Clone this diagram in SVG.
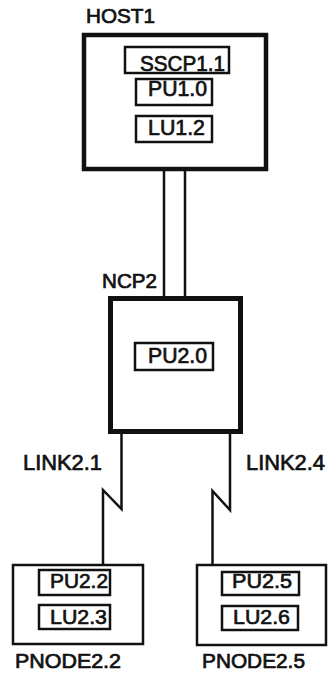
<svg xmlns="http://www.w3.org/2000/svg" width="330" height="675" viewBox="0 0 330 675">
<style>
text{font-family:"Liberation Sans",Arial,sans-serif;fill:#111;stroke:#111;stroke-width:0.7;}
.big{font-size:20px;}
.lk{font-size:22px;}
.in{font-size:22px;}
.in2{font-size:21px;}
.thick{fill:#fff;stroke:#111;stroke-width:4.5;}
.box{fill:#fff;stroke:#111;stroke-width:2.5;}
.sub{fill:none;stroke:#111;stroke-width:2.5;}
.ln{fill:none;stroke:#111;stroke-width:2.5;stroke-linejoin:miter;}
</style>
<rect width="330" height="675" fill="#fff"/>
<g id="connectors">
<line class="ln" x1="164" y1="170" x2="164" y2="297"/>
<line class="ln" x1="185" y1="170" x2="185" y2="297"/>
<path class="ln" d="M121.5 433 V509 L103 490 V565"/>
<path class="ln" d="M230 433 V510 L212.5 491 V565"/>
</g>
<g id="host1">
<rect class="thick" x="84" y="35" width="182" height="134"/>
<text class="big" x="86" y="23" textLength="69" lengthAdjust="spacingAndGlyphs">HOST1</text>
<rect class="sub" x="125" y="47" width="104" height="26"/>
<text class="in" x="140" y="71" textLength="85" lengthAdjust="spacingAndGlyphs">SSCP1.1</text>
<rect class="sub" x="136" y="79" width="76" height="26"/>
<text class="in" x="148" y="96" textLength="59" lengthAdjust="spacingAndGlyphs">PU1.0</text>
<rect class="sub" x="136" y="116" width="76" height="26"/>
<text class="in" x="148" y="135" textLength="57" lengthAdjust="spacingAndGlyphs">LU1.2</text>
</g>
<g id="ncp2">
<rect class="thick" x="110.5" y="298.5" width="130" height="133" style="stroke-width:5"/>
<text class="big" x="102" y="288" textLength="55" lengthAdjust="spacingAndGlyphs">NCP2</text>
<rect class="sub" x="135" y="343" width="78" height="27"/>
<text class="in" x="148" y="363" textLength="59" lengthAdjust="spacingAndGlyphs">PU2.0</text>
</g>
<g id="link-labels">
<text class="lk" x="23" y="470" textLength="79" lengthAdjust="spacingAndGlyphs">LINK2.1</text>
<text class="lk" x="246" y="470" textLength="79" lengthAdjust="spacingAndGlyphs">LINK2.4</text>
</g>
<g id="pnode22">
<rect class="box" x="13" y="565" width="130" height="79"/>
<rect class="sub" x="39" y="570" width="71" height="25"/>
<text class="in2" x="50" y="588" textLength="58" lengthAdjust="spacingAndGlyphs">PU2.2</text>
<rect class="sub" x="39" y="605" width="71" height="24"/>
<text class="in2" x="50" y="624" textLength="57" lengthAdjust="spacingAndGlyphs">LU2.3</text>
<text class="big" x="15" y="668" textLength="106" lengthAdjust="spacingAndGlyphs">PNODE2.2</text>
</g>
<g id="pnode25">
<rect class="box" x="197" y="565" width="129" height="80"/>
<rect class="sub" x="222" y="572" width="77" height="23"/>
<text class="in2" x="232" y="588" textLength="60" lengthAdjust="spacingAndGlyphs">PU2.5</text>
<rect class="sub" x="222" y="606" width="76" height="24"/>
<text class="in2" x="233" y="624" textLength="57" lengthAdjust="spacingAndGlyphs">LU2.6</text>
<text class="big" x="202" y="668" textLength="103" lengthAdjust="spacingAndGlyphs">PNODE2.5</text>
</g>
</svg>
